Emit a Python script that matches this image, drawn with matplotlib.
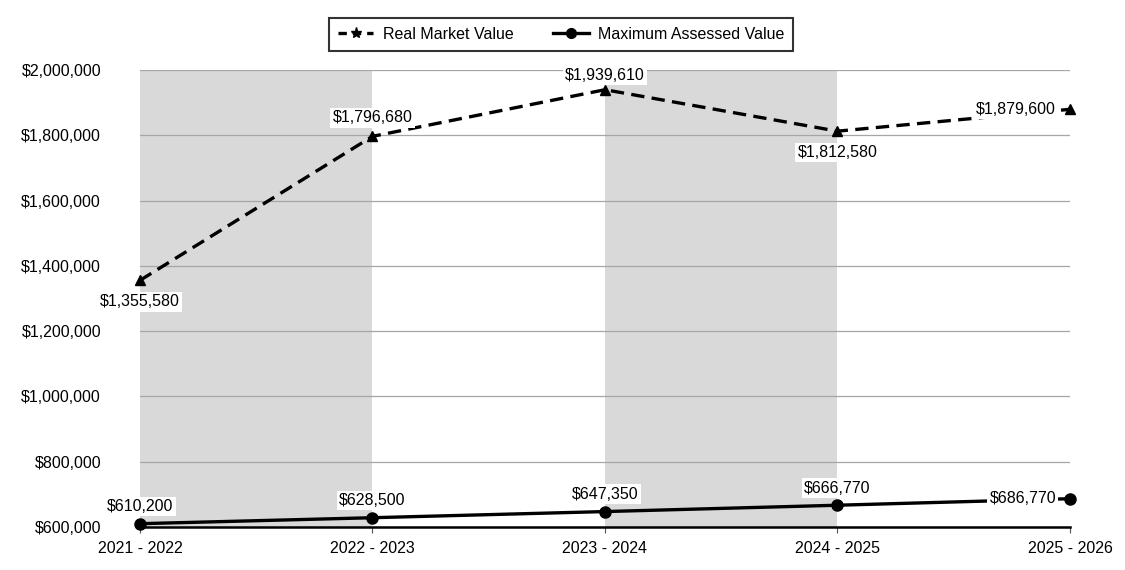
import numpy as np
import matplotlib.pyplot as plt
from matplotlib.lines import Line2D
from matplotlib.ticker import FuncFormatter

plt.rcParams['font.family'] = ['Liberation Sans', 'DejaVu Sans']

years = ['2021 - 2022', '2022 - 2023', '2023 - 2024', '2024 - 2025', '2025 - 2026']
real_market = [1355580, 1796680, 1939610, 1812580, 1879600]
max_assessed = [610200, 628500, 647350, 666770, 686770]

# label placement (offset in points, ha, va)
rmv_pos = [((0, -10), 'center', 'top'), ((0, 8), 'center', 'bottom'),
           ((0, 5), 'center', 'bottom'), ((0, -10), 'center', 'top'),
           ((-10, 0), 'right', 'center')]
mav_pos = [((0, 7), 'center', 'bottom'), ((0, 7), 'center', 'bottom'),
           ((0, 7), 'center', 'bottom'), ((0, 7), 'center', 'bottom'),
           ((-10, 0), 'right', 'center')]

fs = 11.5
fig = plt.figure(figsize=(11.25, 5.7), dpi=100, facecolor='white')
ax = fig.add_axes([0.1244, 0.0754, 0.8267, 0.8018])

x = np.arange(len(years))
for i in range(0, len(years) - 1, 2):
    ax.axvspan(i, i + 1, color='#d9d9d9', zorder=0, lw=0)

ax.set_ylim(600000, 2000000)
ax.set_xlim(0, len(years) - 1)
ax.set_yticks(np.arange(600000, 2000001, 200000))
ax.yaxis.set_major_formatter(FuncFormatter(lambda v, p: '${:,.0f}'.format(v)))
ax.grid(axis='y', color='#a6a6a6', lw=0.9, zorder=1)
ax.set_axisbelow(True)
ax.set_xticks(x)
ax.set_xticklabels(years)
ax.tick_params(axis='y', length=0, labelsize=fs, pad=28)
ax.tick_params(axis='x', length=4, width=0.8, labelsize=fs, pad=6, color='#555555')
for s in ['top', 'right', 'left']:
    ax.spines[s].set_visible(False)
ax.spines['bottom'].set_linewidth(1.8)
ax.spines['bottom'].set_zorder(3)

ax.plot(x, real_market, color='black', ls='--', lw=2.4, dashes=(4, 2.2),
        marker='^', ms=7, zorder=4, clip_on=False)
ax.plot(x, max_assessed, color='black', lw=2.4,
        marker='o', ms=8, zorder=4, clip_on=False)

for xi, v, (off, ha, va) in zip(x, real_market, rmv_pos):
    ax.annotate('${:,}'.format(v), (xi, v), xytext=off, textcoords='offset points',
                ha=ha, va=va, fontsize=fs, zorder=5,
                bbox=dict(boxstyle='square,pad=0.15', fc='white', ec='none'))
for xi, v, (off, ha, va) in zip(x, max_assessed, mav_pos):
    ax.annotate('${:,}'.format(v), (xi, v), xytext=off, textcoords='offset points',
                ha=ha, va=va, fontsize=fs, zorder=5,
                bbox=dict(boxstyle='square,pad=0.15', fc='white', ec='none'))

handles = [Line2D([], [], color='black', lw=2.4, ls='--', dashes=(2.5, 1.8),
                  marker='*', ms=8),
           Line2D([], [], color='black', lw=2.4, marker='o', ms=7)]
leg = ax.legend(handles, ['Real Market Value', 'Maximum Assessed Value'],
                loc='lower center', bbox_to_anchor=(0.453, 1.025), ncol=2, frameon=True,
                fancybox=False, edgecolor='black', fontsize=fs, handlelength=2.2,
                columnspacing=2.5, borderpad=0.55, handletextpad=0.6)
leg.get_frame().set_linewidth(1.5)

plt.savefig('out.png', dpi=100)
